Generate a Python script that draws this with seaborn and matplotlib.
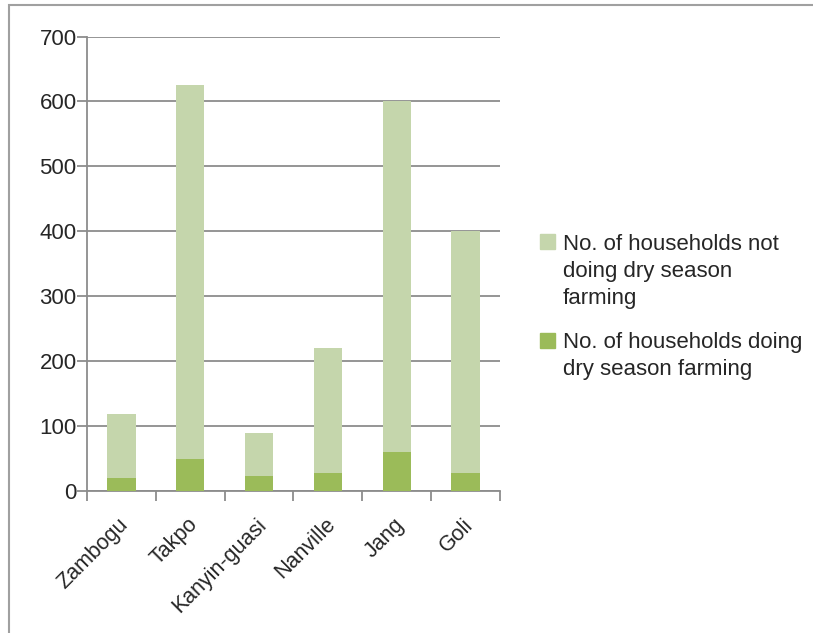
import matplotlib
matplotlib.use('Agg')
import matplotlib.pyplot as plt
import matplotlib.transforms as mtransforms
import seaborn as sns
import pandas as pd
from matplotlib.patches import Patch, Rectangle

# Data
villages = ['Zambogu', 'Takpo', 'Kanyin-guasi', 'Nanville', 'Jang', 'Goli']
doing = [20, 50, 23, 27, 60, 28]
not_doing = [98, 575, 67, 193, 540, 372]

label_not = 'No. of households not\ndoing dry season\nfarming'
label_doing = 'No. of households doing\ndry season farming'

light_green = '#C5D6AC'
dark_green = '#9BBB59'
grey = '#8C8C8C'

df = pd.DataFrame({'village': villages, 'doing': doing, 'not_doing': not_doing})
df['total'] = df['doing'] + df['not_doing']

sns.set_style('white')
plt.rcParams['font.family'] = ['Liberation Sans', 'DejaVu Sans']

fig = plt.figure(figsize=(8.13, 6.33), dpi=100)
ax = fig.add_axes([0.107, 0.2243, 0.508, 0.718])

# stacked bars: total (light) behind, doing (dark) in front
sns.barplot(data=df, x='village', y='total', color=light_green, width=0.41,
            saturation=1, ax=ax, zorder=3, edgecolor='none')
sns.barplot(data=df, x='village', y='doing', color=dark_green, width=0.41,
            saturation=1, ax=ax, zorder=4, edgecolor='none')

ax.set_xlim(-0.5, len(villages) - 0.5)
ax.set_ylim(0, 700)
ax.set_yticks(range(0, 701, 100))
ax.set_xlabel('')
ax.set_ylabel('')

# grid and axes
ax.yaxis.grid(True, color=grey, linewidth=1.3, zorder=0)
ax.set_axisbelow(True)
for side in ['top', 'right']:
    ax.spines[side].set_visible(False)
for side in ['left', 'bottom']:
    ax.spines[side].set_color(grey)
    ax.spines[side].set_linewidth(1.3)

ax.tick_params(axis='y', length=7, width=1.3, color=grey, labelsize=16, pad=0.5,
               direction='out', left=True)
ax.set_xticks([i - 0.5 for i in range(len(villages) + 1)], minor=True)
ax.tick_params(axis='x', which='minor', length=7, width=1.3, color=grey,
               direction='out', bottom=True)
ax.tick_params(axis='x', which='major', length=0, labelsize=15.5, pad=22)
shift = mtransforms.ScaledTranslation(4 / 100, 0, fig.dpi_scale_trans)
for lab in ax.get_xticklabels():
    lab.set_rotation(45)
    lab.set_ha('right')
    lab.set_va('center')
    lab.set_rotation_mode('anchor')
    lab.set_transform(lab.get_transform() + shift)

handles = [Patch(color=light_green, label=label_not),
           Patch(color=dark_green, label=label_doing)]
leg = fig.legend(handles=handles, loc='center left', bbox_to_anchor=(0.640, 0.515),
                 frameon=False, fontsize=16, handlelength=0.65, handleheight=0.65,
                 handletextpad=0.35, labelspacing=1.0)
line_pt = 16 * 1.38
for t in leg.get_texts():
    t.set_linespacing(1.38)

# put each legend square next to the first line of its label (Excel style)
for patch, text in zip(leg.legend_handles, leg.get_texts()):
    n_lines = text.get_text().count('\n') + 1
    patch.set_y(patch.get_y() + (n_lines - 1) / 2 * line_pt)

# outer chart border
fig.patches.append(Rectangle((9 / 813, -0.01), 1.0, 1 - 5 / 633 + 0.01,
                             transform=fig.transFigure, fill=False,
                             edgecolor='#A0A0A0', linewidth=1.5))

fig.savefig('out.png', dpi=100)
